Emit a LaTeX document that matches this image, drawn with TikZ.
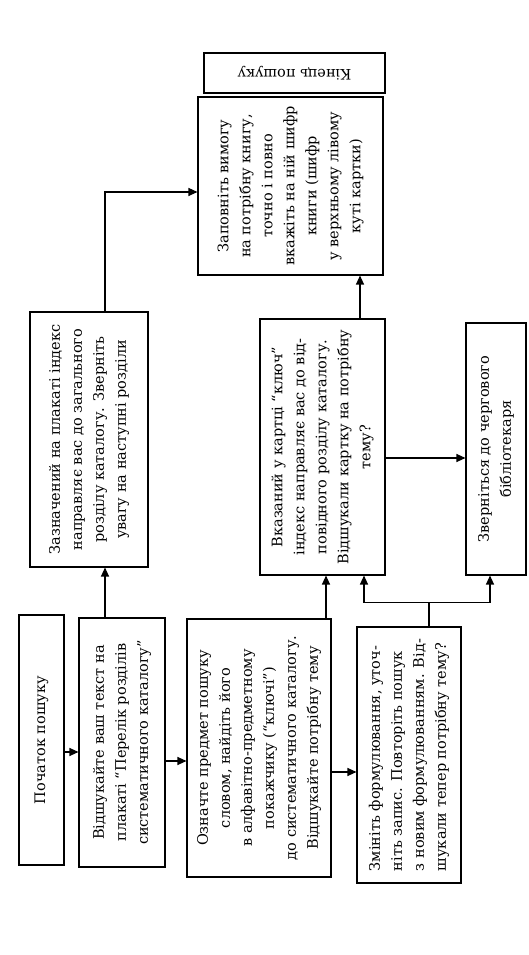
\documentclass[tikz,border=0pt]{standalone}
\usepackage{fontspec}
\setmainfont{DejaVu Serif}
\usetikzlibrary{arrows.meta}

\begin{document}
\begin{tikzpicture}[x=1pt, y=1pt,
    box/.style={draw, line width=1.1pt, inner sep=3pt, align=center,
                font=\fontsize{14.5}{22}\selectfont},
    bx/.style={box, rotate=90},
    ar/.style={-{Triangle[length=9pt,width=8pt]}, line width=1.1pt},
    ln/.style={line width=1.1pt},
]
\useasboundingbox (0,0) rectangle (528,955);

% === ROW 1: start -> find -> subject -> reformulate ===
\node[bx, minimum width=250pt, minimum height=45pt] (start) at (41.5,215) {Початок пошуку};

\node[bx, minimum width=249pt, minimum height=86pt] (find) at (122,212.5)
    {Відшукайте ваш текст на\\плакаті “Перелік розділів\\систематичного каталогу”};

\node[bx, minimum width=258pt, minimum height=144pt] (subj) at (259,207)
    {Означте предмет пошуку\\словом, найдіть його\\в алфавітно-предметному\\покажчику (“ключі”)\\до систематичного каталогу.\\Відшукайте потрібну тему};

\node[bx, align=left, minimum width=256pt, minimum height=104pt] (refm) at (409,200)
    {Змініть формулювання, уточ-\\ніть запис. Повторіть пошук\\з новим формулюванням. Від-\\шукали тепер потрібну тему?};

% Row 1 arrows
\draw[ar] ([yshift=-12pt]start.south) -- ([yshift=-12pt]start.south -| find.north);
\draw[ar] ([yshift=-18.5pt]find.south) -- ([yshift=-18.5pt]find.south -| subj.north);
\draw[ar] ([yshift=-24pt]subj.south) -- ([yshift=-24pt]subj.south -| refm.north);

% === ROW 2: index, key card, librarian ===
\node[bx, minimum width=255pt, minimum height=118pt] (idx) at (89,515.5)
    {Зазначений на плакаті індекс\\направляє вас до загального\\розділу каталогу. Зверніть\\увагу на наступні розділи};

\node[bx, minimum width=256pt, minimum height=125pt] (key) at (322.5,508)
    {Вказаний у картці “ключ”\\індекс направляє вас до від-\\повідного розділу каталогу.\\Відшукали картку на потрібну\\тему?};

\node[bx, minimum width=252pt, minimum height=60pt] (libr) at (496,506)
    {Зверніться до чергового\\бібліотекаря};

% Row 2 arrows
\draw[ar] ([xshift=-17pt]find.east) -- ([xshift=-17pt]find.east |- idx.west);
\draw[ar] ([xshift=67pt]subj.east) -- ([xshift=67pt]subj.east |- key.west);
\coordinate (fork) at ([xshift=20pt,yshift=24pt]refm.east);
\draw[ln] ([xshift=20pt]refm.east) -- (fork);
\draw[ar] (fork) -| ([xshift=41.5pt]key.west);
\draw[ar] (fork) -| ([xshift=-6pt]libr.west);
\draw[ar] ([yshift=-11pt]key.south) -- ([yshift=-11pt]key.south -| libr.north);

% === ROW 3: order form and end ===
\node[bx, minimum width=178pt, minimum height=185pt] (order) at (290.5,769)
    {Заповніть вимогу\\на потрібну книгу,\\точно і повно\\вкажіть на ній шифр\\книги (шифр\\у верхньому лівому\\куті картки)};

\node[box, rotate=180, minimum width=181pt, minimum height=40pt] (end) at (294.5,882) {Кінець пошуку};

% Row 3 arrows
\draw[ar] ([xshift=16pt]idx.east) |- ([yshift=-6pt]order.north);
\draw[ar] ([xshift=37.5pt]key.east) -- ([xshift=37.5pt]key.east |- order.west);

\end{tikzpicture}
\end{document}
